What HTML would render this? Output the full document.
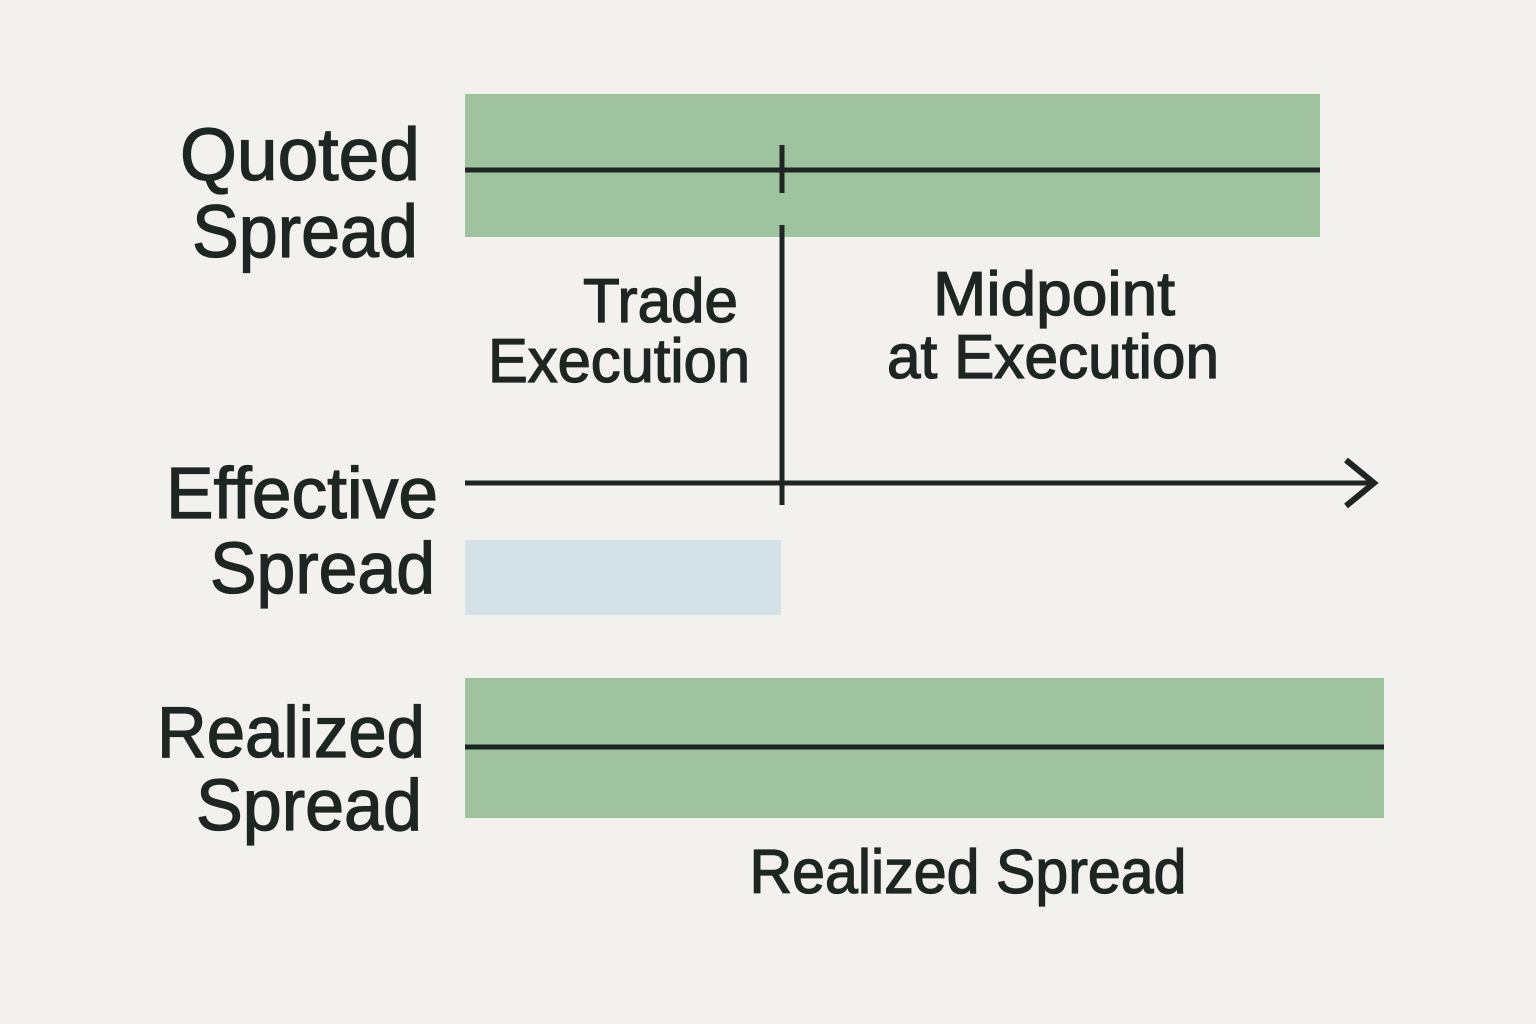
<!DOCTYPE html>
<html><head><meta charset="utf-8"><style>html,body{margin:0;padding:0;background:#f3f1ed}svg{display:block}</style></head>
<body>
<svg width="1536" height="1024" viewBox="0 0 1536 1024" xmlns="http://www.w3.org/2000/svg">
<rect width="1536" height="1024" fill="#f3f1ed"/>
<rect x="465" y="94" width="855" height="143" fill="#9fc29f"/>
<line x1="465" y1="170" x2="1320" y2="170" stroke="#1e2624" stroke-width="5"/>
<line x1="782" y1="145" x2="782" y2="193" stroke="#1e2624" stroke-width="5"/>
<line x1="782" y1="225" x2="782" y2="505" stroke="#1e2624" stroke-width="5"/>
<line x1="465" y1="483" x2="1372" y2="483" stroke="#1e2624" stroke-width="5"/>
<polyline points="1346,460 1374,483 1346,506" fill="none" stroke="#1e2624" stroke-width="6"/>
<rect x="465" y="540" width="316" height="75" fill="#d4e1e6"/>
<rect x="465" y="678" width="919" height="140" fill="#9fc29f"/>
<line x1="465" y1="747" x2="1384" y2="747" stroke="#1e2624" stroke-width="5"/>
<g font-family="Liberation Sans, sans-serif" fill="#1e2624" stroke="#1e2624" stroke-width="1.3">
<text x="420" y="180" font-size="74" text-anchor="end" textLength="240" lengthAdjust="spacingAndGlyphs">Quoted</text>
<text x="418" y="257" font-size="74" text-anchor="end" textLength="226" lengthAdjust="spacingAndGlyphs">Spread</text>
<text x="738" y="322" font-size="62" text-anchor="end" textLength="155" lengthAdjust="spacingAndGlyphs">Trade</text>
<text x="750" y="382" font-size="62" text-anchor="end" textLength="262" lengthAdjust="spacingAndGlyphs">Execution</text>
<text x="1054" y="315" font-size="62" text-anchor="middle" textLength="242" lengthAdjust="spacingAndGlyphs">Midpoint</text>
<text x="1053" y="378" font-size="62" text-anchor="middle" textLength="332" lengthAdjust="spacingAndGlyphs">at Execution</text>
<text x="438" y="518" font-size="72" text-anchor="end" textLength="272" lengthAdjust="spacingAndGlyphs">Effective</text>
<text x="435" y="593" font-size="72" text-anchor="end" textLength="225" lengthAdjust="spacingAndGlyphs">Spread</text>
<text x="425" y="757" font-size="72" text-anchor="end" textLength="268" lengthAdjust="spacingAndGlyphs">Realized</text>
<text x="422" y="830" font-size="72" text-anchor="end" textLength="226" lengthAdjust="spacingAndGlyphs">Spread</text>
<text x="968" y="893" font-size="62" text-anchor="middle" textLength="437" lengthAdjust="spacingAndGlyphs">Realized Spread</text>
</g>
</svg>
</body></html>
